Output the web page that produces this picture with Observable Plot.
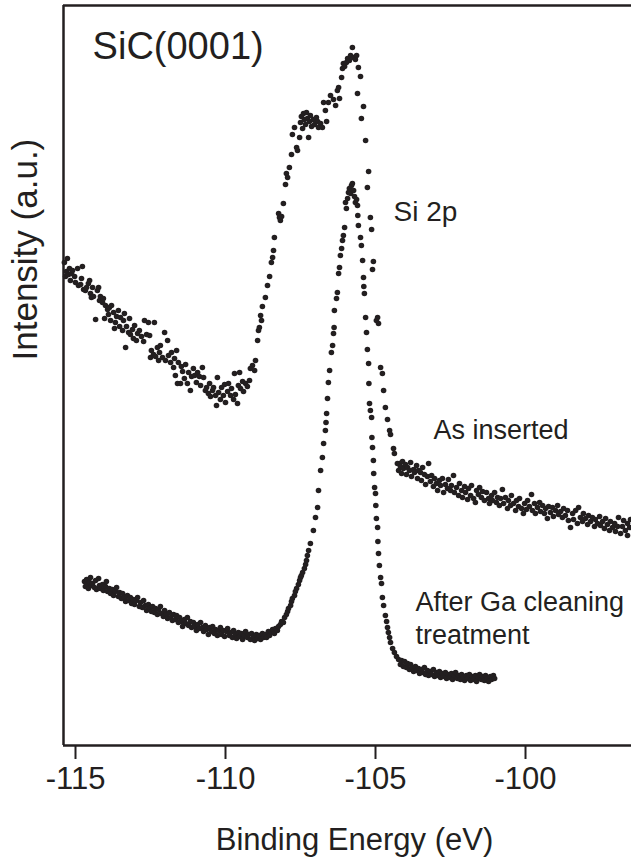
<!DOCTYPE html>
<html>
<head>
<meta charset="utf-8">
<script src="https://cdn.jsdelivr.net/npm/d3@7"></script>
<script src="https://cdn.jsdelivr.net/npm/@observablehq/plot@0.6"></script>
<style>
  html, body { margin: 0; padding: 0; background: #fff; }
  #chart svg { display: block; }
</style>
</head>
<body>
<div id="chart"></div>
<script>
// Binding energy (eV), intensity (a.u.)
const asInserted = [
[-115.37,483],[-115.33,469],[-115.30,474],[-115.27,487],[-115.23,471],[-115.20,477],[-115.17,465],[-115.13,472],[-115.10,475],[-115.03,469],
[-115.00,463],[-114.93,477],[-114.90,460],[-114.83,461],[-114.80,467],[-114.77,479],[-114.73,456],[-114.67,455],[-114.63,458],[-114.57,462],
[-114.53,465],[-114.50,452],[-114.47,448],[-114.43,458],[-114.40,449],[-114.33,426],[-114.27,455],[-114.23,458],[-114.20,445],[-114.17,449],
[-114.10,443],[-114.07,447],[-114.03,427],[-114.00,440],[-113.93,436],[-113.90,431],[-113.87,438],[-113.83,425],[-113.80,440],[-113.73,433],
[-113.70,417],[-113.67,423],[-113.63,429],[-113.57,435],[-113.53,419],[-113.50,428],[-113.43,415],[-113.40,425],[-113.37,432],[-113.33,398],
[-113.30,419],[-113.23,413],[-113.20,427],[-113.17,411],[-113.10,416],[-113.07,407],[-113.03,420],[-112.97,405],[-112.93,412],[-112.87,415],
[-112.80,409],[-112.73,404],[-112.70,425],[-112.63,411],[-112.57,423],[-112.53,410],[-112.50,388],[-112.47,395],[-112.40,391],[-112.37,423],
[-112.33,389],[-112.27,398],[-112.23,385],[-112.20,393],[-112.17,400],[-112.10,388],[-112.03,413],[-112.00,385],[-111.93,405],[-111.90,390],
[-111.83,383],[-111.80,393],[-111.73,378],[-111.70,387],[-111.67,370],[-111.63,395],[-111.60,362],[-111.57,383],[-111.50,362],[-111.47,379],
[-111.43,374],[-111.37,367],[-111.33,381],[-111.27,362],[-111.23,373],[-111.17,355],[-111.13,369],[-111.07,377],[-111.03,370],[-110.97,363],
[-110.93,373],[-110.87,369],[-110.83,360],[-110.77,378],[-110.73,368],[-110.67,355],[-110.63,358],[-110.57,352],[-110.53,362],[-110.50,349],
[-110.43,355],[-110.40,358],[-110.33,350],[-110.30,340],[-110.27,368],[-110.23,353],[-110.17,346],[-110.13,358],[-110.07,350],[-110.03,361],
[-110.00,343],[-109.93,354],[-109.90,362],[-109.83,350],[-109.80,357],[-109.73,346],[-109.70,372],[-109.67,351],[-109.60,342],[-109.57,360],
[-109.53,373],[-109.50,357],[-109.43,364],[-109.40,354],[-109.33,362],[-109.27,359],[-109.20,365],[-109.17,377],[-109.10,380],[-109.03,375],
[-109.00,385],[-108.93,405],[-108.90,415],[-108.87,418],[-108.83,430],[-108.80,425],[-108.77,439],
[-108.67,448],[-108.60,460],[-108.53,469],[-108.47,483],[-108.43,488],[-108.40,495],[-108.37,508],[-108.23,532],[-108.20,528],[-108.17,525],
[-108.13,529],[-108.07,542],[-108.00,561],[-107.97,572],[-107.93,568],[-107.87,578],[-107.80,591],[-107.77,611],[-107.70,618],[-107.63,598],
[-107.60,595],[-107.53,608],[-107.50,623],[-107.47,629],[-107.43,617],[-107.40,632],[-107.37,626],[-107.33,621],[-107.30,633],[-107.27,627],
[-107.23,608],[-107.20,624],[-107.17,630],[-107.13,619],[-107.07,626],[-107.03,621],[-106.97,628],[-106.93,624],[-106.90,618],[-106.83,622],
[-106.77,618],[-106.73,643],[-106.67,635],[-106.63,624],[-106.57,643],[-106.50,650],[-106.40,646],[-106.33,640],[-106.27,655],[-106.23,658],
[-106.20,647],[-106.13,668],[-106.10,677],[-106.07,682],[-106.03,679],[-105.97,683],[-105.93,687],[-105.87,685],[-105.83,690],[-105.77,698],
[-105.73,688],[-105.67,686],[-105.63,690],[-105.60,652],[-105.57,678],[-105.50,669],[-105.47,627],[-105.40,639],[-105.33,605],[-105.27,558],
[-105.23,574],[-105.17,528],[-105.13,516],[-105.10,476],[-105.07,484],[-104.97,425],[-104.93,428],[-104.90,422],[-104.83,378],[-104.77,372],
[-104.73,355],[-104.67,338],[-104.60,326],[-104.53,315],[-104.50,311],[-104.40,297],[-104.37,292],[-104.27,282],
[-104.23,275],[-104.20,282],[-104.17,279],[-104.13,272],[-104.10,284],[-104.07,277],[-104.00,281],[-103.97,271],[-103.93,278],[-103.87,275],
[-103.83,283],[-103.80,269],[-103.73,276],[-103.70,273],[-103.63,280],[-103.60,267],[-103.57,275],[-103.50,273],[-103.47,265],[-103.43,278],
[-103.37,271],[-103.33,261],[-103.27,269],[-103.23,282],[-103.17,264],[-103.13,270],[-103.07,259],[-103.03,267],[-102.97,262],[-102.93,255],
[-102.87,265],[-102.83,260],[-102.77,267],[-102.73,253],[-102.67,261],[-102.60,257],[-102.57,266],[-102.50,255],[-102.47,260],[-102.40,270],
[-102.37,253],[-102.30,258],[-102.23,250],[-102.20,262],[-102.13,255],[-102.10,248],[-102.03,259],[-102.00,253],[-101.93,246],[-101.90,257],
[-101.83,250],[-101.80,260],[-101.73,247],[-101.67,243],[-101.63,255],[-101.57,251],[-101.53,258],[-101.47,248],[-101.43,254],[-101.37,245],
[-101.30,253],[-101.23,247],[-101.20,242],[-101.13,250],[-101.10,245],[-101.03,253],[-100.97,243],[-100.93,248],[-100.87,240],[-100.83,247],
[-100.77,256],[-100.73,242],[-100.67,248],[-100.60,237],[-100.57,245],[-100.50,240],[-100.47,250],[-100.40,242],[-100.33,235],[-100.30,245],
[-100.23,239],[-100.20,247],[-100.13,237],[-100.07,232],[-100.03,242],[-99.97,236],[-99.93,245],[-99.87,239],[-99.80,251],[-99.77,235],
[-99.70,242],[-99.67,232],[-99.60,238],[-99.53,243],[-99.50,234],[-99.43,240],[-99.37,232],[-99.33,237],[-99.27,227],[-99.23,239],
[-99.17,233],[-99.10,238],[-99.07,229],[-99.00,235],[-98.93,240],[-98.90,231],[-98.83,234],[-98.77,228],[-98.73,237],[-98.67,230],
[-98.60,235],[-98.57,225],[-98.50,218],[-98.43,232],[-98.40,226],[-98.33,235],[-98.27,222],[-98.23,238],[-98.17,228],[-98.10,224],
[-98.07,232],[-98.00,227],[-97.93,221],[-97.90,230],[-97.83,224],[-97.77,228],[-97.70,219],[-97.67,226],[-97.60,222],[-97.53,229],
[-97.50,220],[-97.43,224],[-97.37,217],[-97.33,227],[-97.27,221],[-97.20,215],[-97.17,224],[-97.10,218],[-97.03,222],[-97.00,214],
[-96.93,219],[-96.90,228],[-96.83,212],[-96.77,219],[-96.73,225],[-96.67,215],[-96.60,222],[-96.60,210],[-96.53,218],[-96.50,226]
];

const afterGa = [
[-114.70,164],[-114.67,159],[-114.63,166],[-114.60,161],[-114.57,157],[-114.53,163],[-114.50,168],[-114.47,160],[-114.43,162],[-114.37,158],
[-114.33,165],[-114.30,156],[-114.23,167],[-114.20,160],[-114.17,157],[-114.10,161],[-114.07,155],[-114.00,159],[-113.97,164],[-113.93,154],
[-113.87,157],[-113.83,152],[-113.77,156],[-113.73,150],[-113.67,154],[-113.63,158],[-113.57,149],[-113.53,153],[-113.47,147],[-113.43,152],
[-113.37,148],[-113.33,144],[-113.27,150],[-113.23,145],[-113.17,148],[-113.13,142],[-113.07,146],[-113.03,141],[-112.97,145],[-112.93,148],
[-112.87,139],[-112.83,143],[-112.77,138],[-112.73,145],[-112.67,140],[-112.63,135],[-112.57,141],[-112.53,137],[-112.47,134],[-112.43,139],
[-112.37,133],[-112.33,137],[-112.27,131],[-112.23,136],[-112.17,139],[-112.13,132],[-112.07,129],[-112.03,135],[-111.97,131],[-111.93,127],
[-111.87,133],[-111.83,128],[-111.77,125],[-111.73,131],[-111.67,126],[-111.63,130],[-111.57,123],[-111.53,128],[-111.47,124],[-111.43,119],
[-111.37,126],[-111.33,122],[-111.27,128],[-111.23,120],[-111.17,124],[-111.13,118],[-111.07,123],[-111.03,119],[-110.97,115],[-110.93,121],
[-110.87,117],[-110.83,123],[-110.77,118],[-110.73,114],[-110.67,120],[-110.63,116],[-110.57,111],[-110.53,118],[-110.47,114],[-110.43,119],
[-110.37,112],[-110.33,116],[-110.27,110],[-110.23,115],[-110.17,118],[-110.13,111],[-110.07,115],[-110.03,109],[-109.97,114],[-109.93,117],
[-109.87,110],[-109.83,113],[-109.77,108],[-109.73,115],[-109.67,111],[-109.63,107],[-109.57,113],[-109.53,109],[-109.47,112],[-109.43,106],
[-109.37,110],[-109.33,114],[-109.27,108],[-109.23,111],[-109.17,106],[-109.13,112],[-109.07,109],[-109.03,105],[-108.97,111],[-108.93,107],
[-108.87,110],[-108.83,106],[-108.77,112],[-108.73,108],[-108.67,111],[-108.63,108],[-108.57,114],[-108.53,110],[-108.47,113],[-108.43,116],
[-108.37,112],[-108.33,117],[-108.27,115],[-108.23,119],
[-108.17,121],[-108.13,124],[-108.07,123],[-108.03,128],[-107.97,131],[-107.93,134],[-107.90,137],[-107.83,140],[-107.80,144],[-107.77,147],
[-107.70,150],[-107.67,154],[-107.63,157],[-107.57,161],[-107.53,165],[-107.50,168],[-107.47,170],[-107.43,173],[-107.37,177],[-107.33,181],
[-107.30,185],[-107.27,190],[-107.23,195],[-107.17,202],[-107.07,215],[-107.00,228],[-106.93,238],[-106.90,255],[-106.83,275],[-106.77,288],
[-106.73,302],[-106.67,315],[-106.65,323],[-106.63,332],[-106.60,347],[-106.57,363],[-106.53,375],[-106.47,393],[-106.43,400],[-106.40,412],
[-106.38,418],[-106.37,435],[-106.30,447],[-106.27,453],[-106.23,472],[-106.20,478],[-106.17,490],[-106.13,497],[-106.10,505],[-106.07,510],
[-106.03,518],[-106.00,543],[-105.97,537],[-105.93,547],[-105.90,553],[-105.87,557],[-105.83,552],[-105.80,560],[-105.77,562],[-105.73,555],
[-105.70,549],[-105.67,543],[-105.63,546],[-105.60,540],[-105.59,530],[-105.57,520],[-105.50,508],[-105.47,500],[-105.43,485],[-105.40,468],
[-105.39,459],[-105.37,452],[-105.33,428],[-105.30,413],[-105.27,396],[-105.23,382],[-105.22,362],[-105.20,342],[-105.17,335],[-105.13,328],
[-105.12,308],[-105.10,298],[-105.07,285],[-105.06,272],[-105.03,258],[-105.00,252],[-104.99,240],[-104.97,227],[-104.93,218],[-104.92,204],
[-104.90,192],[-104.87,180],[-104.83,168],[-104.80,162],[-104.77,148],[-104.73,140],[-104.67,130],[-104.63,124],[-104.60,118],[-104.57,113],
[-104.53,108],[-104.50,103],[-104.43,97],[-104.37,93],[-104.30,89],[-104.23,86],
[-104.17,81],[-104.13,85],[-104.07,79],[-104.03,84],[-103.97,78],[-103.93,82],[-103.87,76],[-103.83,81],[-103.77,78],[-103.73,74],
[-103.67,79],[-103.63,75],[-103.57,77],[-103.53,72],[-103.47,76],[-103.43,73],[-103.37,78],[-103.33,71],[-103.27,75],[-103.23,70],
[-103.17,74],[-103.13,71],[-103.07,76],[-103.03,69],[-102.97,73],[-102.93,70],[-102.87,74],[-102.83,68],[-102.77,72],[-102.73,69],
[-102.67,73],[-102.63,67],[-102.57,71],[-102.53,68],[-102.47,72],[-102.43,66],[-102.37,70],[-102.33,73],[-102.27,67],[-102.23,70],
[-102.17,66],[-102.13,71],[-102.07,68],[-102.03,65],[-101.97,70],[-101.93,67],[-101.87,71],[-101.83,65],[-101.77,69],[-101.73,66],
[-101.67,70],[-101.63,64],[-101.57,68],[-101.53,71],[-101.47,66],[-101.43,69],[-101.37,65],[-101.33,70],[-101.27,67],[-101.23,64],
[-101.17,69],[-101.13,66],[-101.07,70],[-101.03,67]
];

const xTicks = [-115, -110, -105, -100];
const xDomain = [-115.4, -96.467];
const yDomain = [0, 740];

const labels = [
  {x: -114.43, y: 699, text: "SiC(0001)", size: 38},
  {x: -104.40, y: 533, text: "Si 2p", size: 28},
  {x: -103.07, y: 315, text: "As inserted", size: 27},
  {x: -103.67, y: 143, text: "After Ga cleaning", size: 27},
  {x: -103.67, y: 110, text: "treatment", size: 27}
];

const ink = "#231f20";
const font = "'Liberation Sans', Arial, Helvetica, sans-serif";

const chart = Plot.plot({
  width: 631,
  height: 861,
  marginLeft: 63,
  marginRight: 0,
  marginTop: 5,
  marginBottom: 116,
  style: {fontFamily: font, background: "#fff", color: ink},
  x: {domain: xDomain},
  y: {domain: yDomain, axis: null},
  marks: [
    Plot.axisX({
      ticks: xTicks,
      tickFormat: d => `${d}`,
      tickSize: 14,
      tickPadding: 7,
      fontSize: 31,
      strokeWidth: 2,
      stroke: ink,
      fill: ink,
      label: null
    }),
    Plot.ruleX([xDomain[0]], {stroke: ink, strokeWidth: 2.5}),
    Plot.ruleY([yDomain[0], yDomain[1]], {stroke: ink, strokeWidth: 2.5}),
    Plot.dot(asInserted, {x: d => d[0], y: d => d[1], r: 2.8, fill: ink, stroke: "none"}),
    Plot.dot(afterGa, {x: d => d[0], y: d => d[1], r: 2.8, fill: ink, stroke: "none"}),
    Plot.text(labels, {x: "x", y: "y", text: "text", fontSize: d => d.size, textAnchor: "start", lineAnchor: "middle", fill: ink}),
    Plot.text(["Binding Energy (eV)"], {frameAnchor: "bottom", dx: 7, dy: 95, fontSize: 31, fill: ink, lineAnchor: "middle"}),
    Plot.text(["Intensity (a.u.)"], {frameAnchor: "left", dx: -38, dy: -15, rotate: -90, fontSize: 35, fill: ink, lineAnchor: "middle"})
  ]
});
document.getElementById("chart").appendChild(chart);
</script>
</body>
</html>
